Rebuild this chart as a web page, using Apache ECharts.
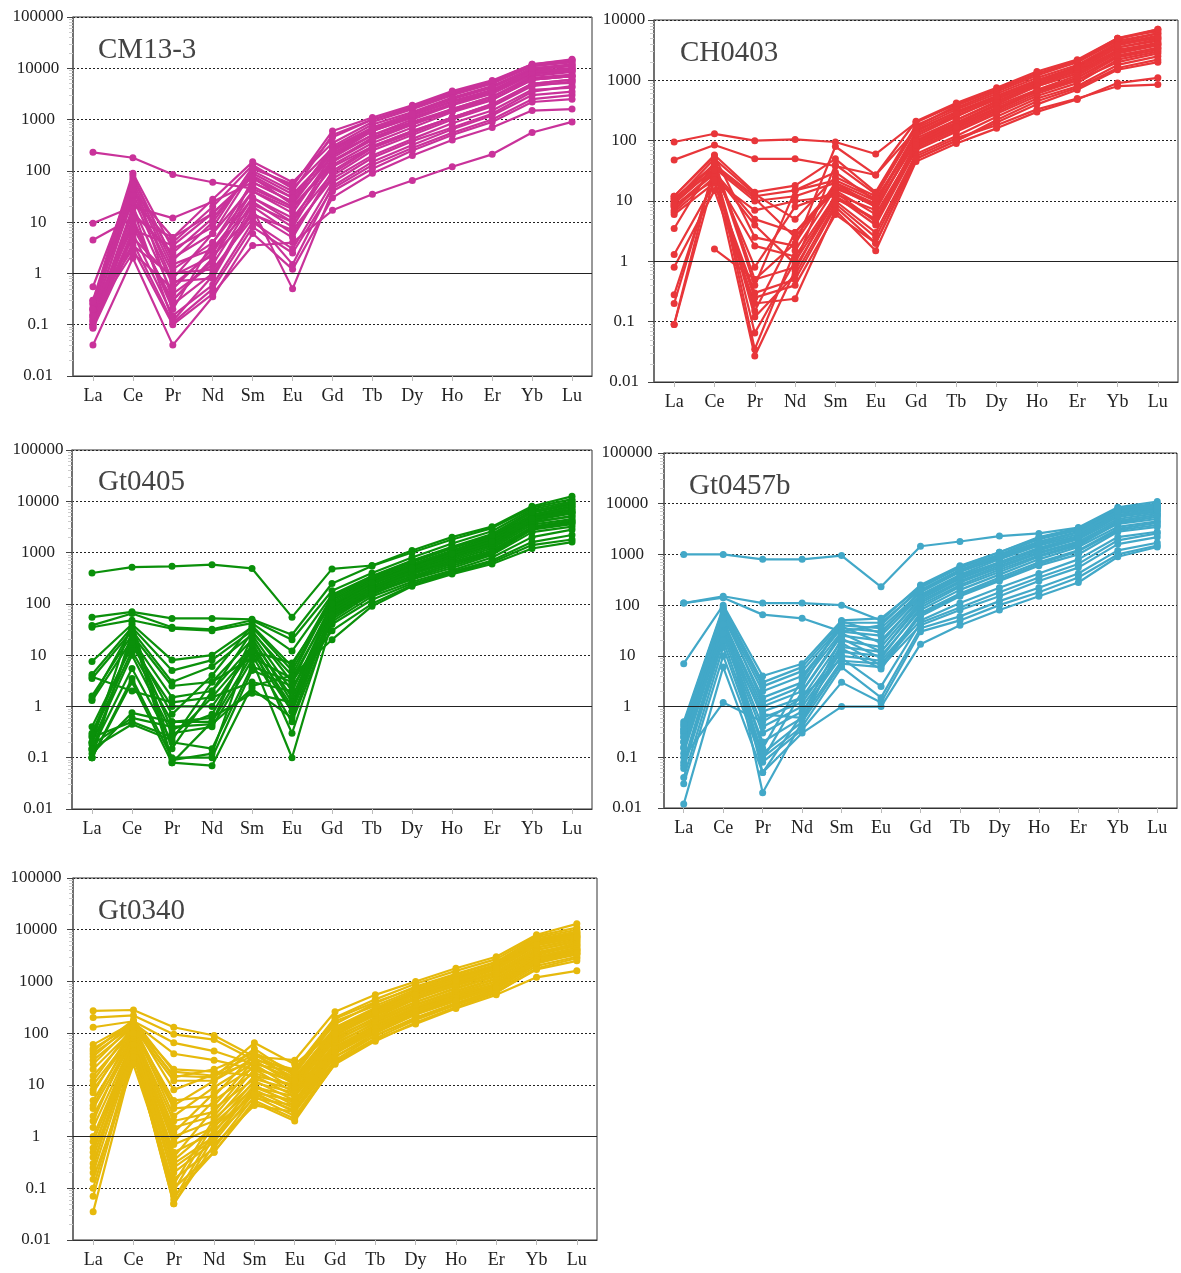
<!DOCTYPE html>
<html>
<head>
<meta charset="utf-8">
<script src="https://cdn.jsdelivr.net/npm/echarts@6/dist/echarts.min.js"></script>
<style>
html,body{margin:0;padding:0;background:#fff;}
#c{width:1181px;height:1273px;}
</style>
</head>
<body>
<div id="c"></div>
<script>
const REE = ['La','Ce','Pr','Nd','Sm','Eu','Gd','Tb','Dy','Ho','Er','Yb','Lu'];

const cm13_3 = [
  [230, 180, 85, 60, 45, 20, 150, 400, 800, 1500, 2500, 6000, 7000],
  [9.5, 20, 12, 25, 60, 25, 200, 500, 900, 1600, 2800, 6500, 7500],
  [4.5, 12, 5, 15, 80, 30, 250, 600, 1100, 2000, 3500, 8000, 9000],
  [0.55, 60, 1.5, 3, 30, 12, 120, 300, 600, 1100, 2000, 5000, 6000],
  [0.3, 90, 3, 8, 120, 50, 600, 1100, 1900, 3600, 5800, 12000, 15000],
  [0.25, 70, 2, 6, 100, 40, 500, 1000, 1700, 3200, 5200, 11000, 14000],
  [0.2, 50, 1.2, 4, 60, 25, 300, 800, 1400, 2700, 4500, 10000, 12000],
  [0.15, 30, 0.6, 2.5, 40, 15, 200, 600, 1100, 2000, 3500, 8000, 10000],
  [0.12, 20, 0.4, 1.5, 25, 8, 150, 450, 850, 1600, 2800, 7000, 8500],
  [0.1, 10, 0.25, 1, 15, 5, 100, 300, 600, 1100, 2000, 5000, 6000],
  [0.09, 6, 0.15, 0.6, 10, 3, 60, 180, 380, 700, 1300, 3500, 4500],
  [0.085, 4, 0.11, 0.5, 8, 2.5, 45, 130, 280, 550, 1000, 2500, 3000],
  [0.04, 2, 0.04, 0.35, 6, 1.2, 30, 90, 200, 400, 700, 1500, 1600],
  [0.2, 3, 0.1, 0.4, 3.5, 4, 17, 35, 65, 120, 210, 560, 900],
  [0.18, 8, 0.3, 2, 30, 10, 180, 500, 1000, 1900, 3200, 7500, 9000],
  [0.22, 40, 5, 28, 150, 60, 350, 900, 1600, 3000, 5000, 11000, 13000],
  [0.3, 25, 4, 20, 130, 45, 280, 700, 1300, 2500, 4200, 9500, 11000],
  [0.13, 15, 2.5, 12, 90, 35, 220, 600, 1200, 2300, 3800, 9000, 10000],
  [0.11, 5, 0.8, 6, 50, 20, 130, 350, 700, 1400, 2400, 6000, 7000],
  [0.16, 2.5, 0.5, 3, 20, 6, 80, 250, 500, 1000, 1800, 4500, 5500],
  [0.14, 35, 1, 1.2, 12, 1.5, 50, 150, 320, 650, 1200, 3000, 3500],
  [0.26, 45, 0.7, 0.8, 18, 0.5, 40, 110, 250, 500, 900, 2200, 2500],
  [0.12, 12, 0.2, 4, 40, 18, 160, 420, 800, 1500, 2500, 6000, 7000],
  [0.2, 55, 0.3, 1.8, 70, 30, 260, 650, 1200, 2200, 3600, 8500, 9500],
  [0.09, 18, 0.12, 0.9, 22, 10, 90, 280, 550, 1100, 1900, 4800, 5200],
  [0.15, 80, 1.8, 10, 110, 55, 450, 1000, 1800, 3400, 5500, 12000, 14500],
  [0.1, 7, 3.5, 15, 75, 22, 240, 700, 1300, 2600, 4300, 10000, 11500],
  [0.28, 3.5, 0.9, 2.2, 14, 7, 70, 200, 420, 850, 1500, 3800, 4200]
];

const ch0403 = [
  [95, 130, 100, 105, 95, 60, 200, 400, 700, 1300, 2000, 4500, 6000],
  [48, 85, 50, 50, 38, 27, 150, 300, 550, 1000, 1700, 4000, 5000],
  [12, 58, 14, 18, 50, 14, 180, 350, 650, 1200, 2000, 4800, 7000],
  [11, 40, 12, 15, 30, 10, 120, 250, 500, 900, 1500, 3500, 4500],
  [9, 35, 10, 12, 20, 8, 100, 200, 400, 800, 1300, 3000, 4000],
  [8, 30, 5, 3, 15, 6, 80, 160, 320, 650, 1100, 2500, 3500],
  [6.5, 25, 1.8, 1.2, 12, 4, 70, 140, 280, 550, 900, 2200, 3000],
  [3.5, 45, 0.5, 0.8, 10, 3, 60, 120, 250, 500, 800, 1800, 2500],
  [1.3, 20, 0.3, 0.5, 8, 2, 50, 100, 200, 400, 700, 1500, 2000],
  [0.8, 15, 0.2, 0.24, 7, 1.5, 45, 90, 160, 300, 480, 900, 1100],
  [0.28, 30, 0.12, 0.6, 9, 2.5, 55, 110, 180, 330, 500, 800, 850],
  [0.2, 35, 0.065, 1, 11, 5, 90, 180, 350, 650, 1000, 2000, 2800],
  [0.09, 25, 0.027, 0.7, 13, 7, 110, 220, 450, 850, 1400, 3200, 4200],
  [0.09, 40, 0.035, 1.5, 16, 9, 140, 300, 550, 1000, 1600, 4000, 5500],
  [null, 1.6, 0.5, 2, 20, 10, 130, 260, 480, 900, 1500, 3500, 4800],
  [10, 50, 13, 5, 25, 12, 160, 330, 600, 1100, 1800, 4200, 6000],
  [11, 38, 11, 2.5, 18, 9, 130, 280, 520, 950, 1550, 3800, 5200],
  [8, 28, 4, 0.9, 40, 13, 170, 380, 700, 1300, 2100, 5000, 6500],
  [7, 32, 0.8, 8, 14, 4.5, 75, 150, 300, 600, 1000, 2400, 3200],
  [9, 42, 0.4, 15, 22, 11, 100, 220, 430, 800, 1300, 3000, 4000],
  [12, 55, 2.5, 1.8, 80, 27, 210, 420, 750, 1400, 2200, 5000, 7000],
  [6, 20, 0.25, 0.4, 6, 2, 50, 100, 220, 450, 750, 1600, 2200],
  [10, 33, 0.15, 3, 17, 8, 95, 190, 380, 700, 1200, 2800, 3800],
  [8.5, 22, 7, 10, 12, 5, 85, 170, 340, 680, 1100, 2600, 3400]
];

const gt0405 = [
  [400, 520, 540, 580, 490, 55, 480, 560, 1100, 2000, 3200, 8000, 12500],
  [55, 70, 52, 52, 50, 25, 250, 550, 1000, 1800, 3000, 7500, 11000],
  [38, 65, 35, 32, 48, 20, 180, 400, 800, 1500, 2600, 7000, 10000],
  [35, 48, 33, 30, 42, 12, 150, 350, 700, 1300, 2300, 6500, 9000],
  [7.5, 40, 8, 10, 35, 5, 120, 300, 600, 1100, 2000, 5500, 8000],
  [4.2, 35, 5, 8, 30, 3, 100, 280, 550, 1000, 1800, 5000, 7000],
  [3.5, 30, 3, 6, 25, 2, 90, 250, 500, 900, 1600, 4500, 6000],
  [1.6, 25, 2.5, 3, 20, 1.5, 80, 220, 450, 800, 1400, 4000, 5000],
  [1.3, 20, 1.5, 2, 15, 1, 70, 200, 400, 700, 1200, 3500, 4500],
  [0.4, 15, 1, 1, 12, 0.8, 60, 180, 350, 600, 1000, 3000, 4000],
  [0.27, 12, 0.5, 0.5, 10, 0.5, 50, 160, 300, 500, 900, 2500, 3200],
  [0.2, 10, 0.3, 0.4, 8, 0.1, 45, 140, 270, 450, 800, 2000, 2800],
  [0.15, 5.5, 0.2, 0.15, 6, 3, 40, 120, 250, 420, 700, 1600, 2200],
  [0.1, 3.5, 0.1, 0.1, 5, 2.5, 30, 100, 230, 400, 650, 1400, 1800],
  [0.1, 3, 0.08, 0.07, 2.5, 4, 20, 90, 220, 380, 600, 1200, 1600],
  [0.12, 0.75, 0.5, 0.6, 1.8, 1.2, 55, 170, 320, 550, 950, 2800, 3600],
  [0.18, 0.6, 0.4, 0.45, 2.2, 0.6, 65, 190, 380, 650, 1100, 3200, 4200],
  [0.25, 0.5, 0.25, 1.5, 3, 2, 75, 210, 420, 750, 1300, 3800, 5200],
  [0.15, 0.45, 0.22, 3, 9, 3.5, 85, 240, 480, 850, 1500, 4200, 5800],
  [0.2, 45, 0.09, 0.12, 18, 0.8, 110, 290, 580, 1050, 1900, 5200, 7500],
  [0.1, 28, 0.08, 0.5, 22, 1.2, 95, 260, 520, 950, 1700, 4800, 6500],
  [1.4, 33, 0.15, 2, 28, 4, 130, 320, 650, 1200, 2100, 6000, 8500],
  [0.3, 18, 0.7, 4, 38, 6, 140, 340, 680, 1250, 2200, 6200, 9500],
  [3.8, 2, 1.2, 1.5, 12, 7, 100, 260, 500, 950, 1650, 4600, 6200],
  [0.14, 22, 0.35, 0.7, 16, 0.3, 60, 150, 330, 620, 1050, 3000, 3800]
];

const gt0457b = [
  [1000, 1000, 800, 800, 950, 230, 1450, 1800, 2300, 2600, 3400, 8500, 11000],
  [110, 150, 110, 110, 100, 50, 250, 600, 1100, 2200, 3300, 8000, 10000],
  [110, 140, 65, 55, 30, 40, 220, 550, 1000, 2000, 3000, 7500, 9000],
  [7, 100, 4, 7, 50, 55, 230, 580, 1100, 2100, 3200, 8000, 9500],
  [0.5, 90, 3, 6, 45, 45, 200, 500, 950, 1800, 2800, 7000, 8500],
  [0.4, 80, 2.5, 5, 40, 35, 180, 450, 850, 1600, 2500, 6500, 8000],
  [0.35, 70, 2, 4, 35, 30, 160, 400, 800, 1500, 2300, 6000, 7500],
  [0.3, 60, 1.5, 3, 30, 25, 150, 380, 700, 1300, 2100, 5500, 7000],
  [0.25, 50, 1, 2, 25, 20, 130, 330, 650, 1200, 2000, 5000, 6500],
  [0.2, 45, 0.8, 1.5, 20, 15, 120, 300, 600, 1100, 1800, 4500, 6000],
  [0.16, 40, 0.6, 1.2, 15, 12, 100, 250, 500, 950, 1600, 4000, 5000],
  [0.12, 35, 0.4, 1, 12, 10, 80, 200, 400, 800, 1400, 3500, 4500],
  [0.08, 30, 0.3, 0.8, 10, 8, 60, 150, 300, 600, 1000, 2800, 3500],
  [0.07, 25, 0.2, 0.6, 8, 7, 50, 110, 220, 420, 800, 2200, 2800],
  [0.06, 20, 0.12, 0.5, 7, 6, 40, 80, 150, 300, 550, 1600, 2200],
  [0.04, 15, 0.1, 0.4, 6, 1.5, 35, 60, 120, 220, 420, 1200, 1700],
  [0.03, 10, 0.08, 0.35, 3, 1.2, 30, 50, 100, 180, 350, 1000, 1500],
  [0.012, 6, 0.05, 0.3, 1, 1, 17, 40, 80, 150, 280, 900, 1400],
  [0.1, 1.2, 0.5, 1.5, 9, 2.5, 45, 90, 180, 350, 650, 1900, 2600],
  [0.45, 85, 0.02, 0.5, 18, 6.5, 70, 170, 350, 700, 1200, 3200, 4200],
  [0.3, 65, 0.05, 0.7, 22, 9, 90, 230, 450, 900, 1500, 4200, 5500],
  [0.2, 55, 0.09, 2, 28, 12, 110, 280, 550, 1050, 1700, 4600, 6000],
  [0.15, 42, 0.15, 3.5, 38, 18, 140, 350, 700, 1350, 2200, 5800, 7500],
  [0.25, 28, 0.7, 0.6, 14, 5.5, 65, 160, 320, 650, 1150, 3000, 3800],
  [0.35, 75, 1.2, 2.5, 48, 28, 190, 480, 900, 1700, 2700, 7000, 9000]
];

const gt0340 = [
  [270, 280, 130, 90, 35, 30, 260, 550, 1000, 1800, 3000, 8000, 13000],
  [200, 220, 95, 75, 30, 20, 200, 450, 900, 1600, 2700, 7500, 11000],
  [130, 170, 65, 45, 25, 18, 150, 380, 800, 1400, 2400, 7000, 10000],
  [60, 160, 40, 30, 20, 12, 120, 300, 650, 1200, 2100, 6000, 8500],
  [50, 150, 20, 18, 15, 10, 100, 250, 550, 1000, 1800, 5500, 7500],
  [40, 140, 15, 14, 65, 25, 110, 280, 600, 1100, 2000, 6000, 8000],
  [30, 130, 12, 12, 50, 15, 90, 230, 500, 950, 1700, 5000, 7000],
  [20, 120, 5, 6, 40, 12, 80, 200, 450, 850, 1500, 4500, 6500],
  [15, 110, 3.5, 4, 30, 10, 70, 180, 400, 750, 1300, 4000, 6000],
  [10, 100, 2, 3, 25, 8, 60, 160, 350, 650, 1100, 3500, 5500],
  [8, 95, 1.5, 2.5, 20, 7, 55, 140, 320, 600, 1000, 3200, 5000],
  [5, 90, 1, 2, 15, 6, 50, 130, 300, 550, 900, 3000, 4500],
  [3.5, 85, 0.7, 1.5, 12, 5, 45, 120, 280, 500, 850, 2800, 4200],
  [2.5, 80, 0.5, 1.2, 10, 4, 40, 110, 250, 450, 800, 2600, 4000],
  [1.5, 75, 0.3, 1, 8, 3.5, 35, 100, 230, 420, 750, 2400, 3800],
  [1, 70, 0.2, 0.8, 7, 3, 30, 90, 200, 380, 700, 2200, 3500],
  [0.8, 65, 0.15, 0.6, 6, 2.5, 28, 80, 180, 350, 650, 2000, 3000],
  [0.4, 60, 0.1, 0.5, 5, 2.2, 25, 70, 160, 320, 600, 1800, 2800],
  [0.3, 55, 0.07, 0.5, 4.5, 2, 26, 75, 150, 300, 550, 1200, 1600],
  [0.2, 50, 0.05, 0.7, 4, 3, 35, 90, 190, 360, 620, 1700, 2500],
  [0.1, 45, 0.05, 1, 5.5, 4, 45, 110, 240, 440, 760, 2300, 3300],
  [0.07, 40, 0.06, 1.3, 7, 5, 55, 130, 280, 520, 900, 2700, 3900],
  [0.035, 35, 0.09, 1.8, 9, 6, 65, 150, 320, 580, 1000, 3000, 4300],
  [0.15, 25, 0.12, 2.2, 11, 7, 75, 170, 360, 660, 1150, 3400, 4800],
  [0.5, 90, 0.4, 3.5, 13, 8, 85, 190, 400, 720, 1250, 3700, 5200],
  [2, 110, 0.8, 5, 17, 9, 95, 220, 460, 820, 1400, 4100, 5800],
  [4, 120, 1.2, 7, 22, 11, 105, 240, 500, 900, 1550, 4500, 6400],
  [7, 130, 2.5, 9, 27, 13, 115, 270, 560, 1000, 1700, 5000, 7000],
  [12, 140, 4, 12, 33, 14, 130, 310, 630, 1150, 1950, 5600, 7800],
  [25, 150, 8, 16, 38, 16, 170, 340, 700, 1250, 2100, 6200, 8800],
  [35, 165, 14, 20, 42, 18, 190, 400, 750, 1350, 2300, 6500, 9200],
  [45, 180, 18, 15, 28, 12, 100, 260, 560, 1050, 1850, 5200, 7200],
  [0.25, 100, 0.25, 0.9, 9, 4.5, 50, 120, 260, 480, 820, 2600, 3600],
  [0.6, 60, 0.35, 1.6, 6.5, 3.2, 42, 105, 230, 430, 760, 2400, 3400]
];

const panels = [
  {name:'CM13-3', rows:cm13_3, color:'#C9329A', grid:{left:73, top:17, width:519, height:359}, max:100000, lm:35, t:{left:93, top:31}},
  {name:'CH0403', rows:ch0403, color:'#E8363A', grid:{left:654, top:20, width:524, height:362}, max:10000, lm:30, t:{left:675, top:34}},
  {name:'Gt0405', rows:gt0405, color:'#0A900A', grid:{left:72, top:450, width:520, height:359}, max:100000, lm:34, t:{left:93, top:463}},
  {name:'Gt0457b', rows:gt0457b, color:'#42A8C8', grid:{left:664, top:453, width:513, height:355}, max:100000, lm:37, t:{left:684, top:467}},
  {name:'Gt0340', rows:gt0340, color:'#E6B90C', grid:{left:73, top:878, width:524, height:362}, max:100000, lm:37, t:{left:93, top:892}}
];

const FONT = "'Liberation Serif', 'DejaVu Serif', serif";

function fmt(v){
  const e = Math.round(Math.log10(v));
  return e >= 0 ? String(Math.pow(10, e)) : Math.pow(10, e).toFixed(-e);
}

const option = {
  animation: false,
  backgroundColor: '#fff',
  title: panels.map(p => ({
    text: p.name, left: p.t.left, top: p.t.top,
    textStyle: {fontFamily: FONT, fontSize: 29, fontWeight: 'normal', color: '#444'}
  })),
  grid: panels.map(p => Object.assign({show: true, borderColor: '#333', borderWidth: 1, backgroundColor: '#fff'}, p.grid)),
  xAxis: panels.map((p, i) => ({
    type: 'category', gridIndex: i, data: REE, boundaryGap: true,
    axisLine: {lineStyle: {color: '#333', width: 1.2}},
    axisTick: {show: true, alignWithLabel: true, length: 5, lineStyle: {color: '#bbb'}},
    axisLabel: {fontFamily: FONT, fontSize: 18, color: '#222', margin: 11},
    splitLine: {show: false}
  })),
  yAxis: panels.map((p, i) => ({
    type: 'log', logBase: 10, gridIndex: i, min: 0.01, max: p.max,
    axisLine: {show: true, lineStyle: {color: '#666', width: 1.6}},
    axisTick: {show: true, length: 6, lineStyle: {color: '#444'}},
    minorTick: {show: true, splitNumber: 9, length: 4, lineStyle: {color: '#ccc'}},
    axisLabel: {fontFamily: FONT, fontSize: 17, color: '#222', align: 'center', margin: p.lm, formatter: fmt},
    splitLine: {show: true, lineStyle: {color: '#222', width: 1, type: [2, 2]}}
  })),
  series: []
};

panels.forEach((p, i) => {
  p.rows.forEach((r, k) => {
    const s = {
      type: 'line', xAxisIndex: i, yAxisIndex: i, data: r,
      symbol: 'circle', symbolSize: 7, showSymbol: true,
      lineStyle: {width: 2.2, color: p.color},
      itemStyle: {color: p.color},
      connectNulls: false, silent: true, z: 3
    };
    if (k === 0) {
      s.markLine = {
        silent: true, symbol: ['none', 'none'], label: {show: false},
        lineStyle: {color: '#222', type: 'solid', width: 1.2},
        data: [{yAxis: 1}]
      };
    }
    option.series.push(s);
  });
});

const chart = echarts.init(document.getElementById('c'), null, {renderer: 'canvas'});
chart.setOption(option);
</script>
</body>
</html>
